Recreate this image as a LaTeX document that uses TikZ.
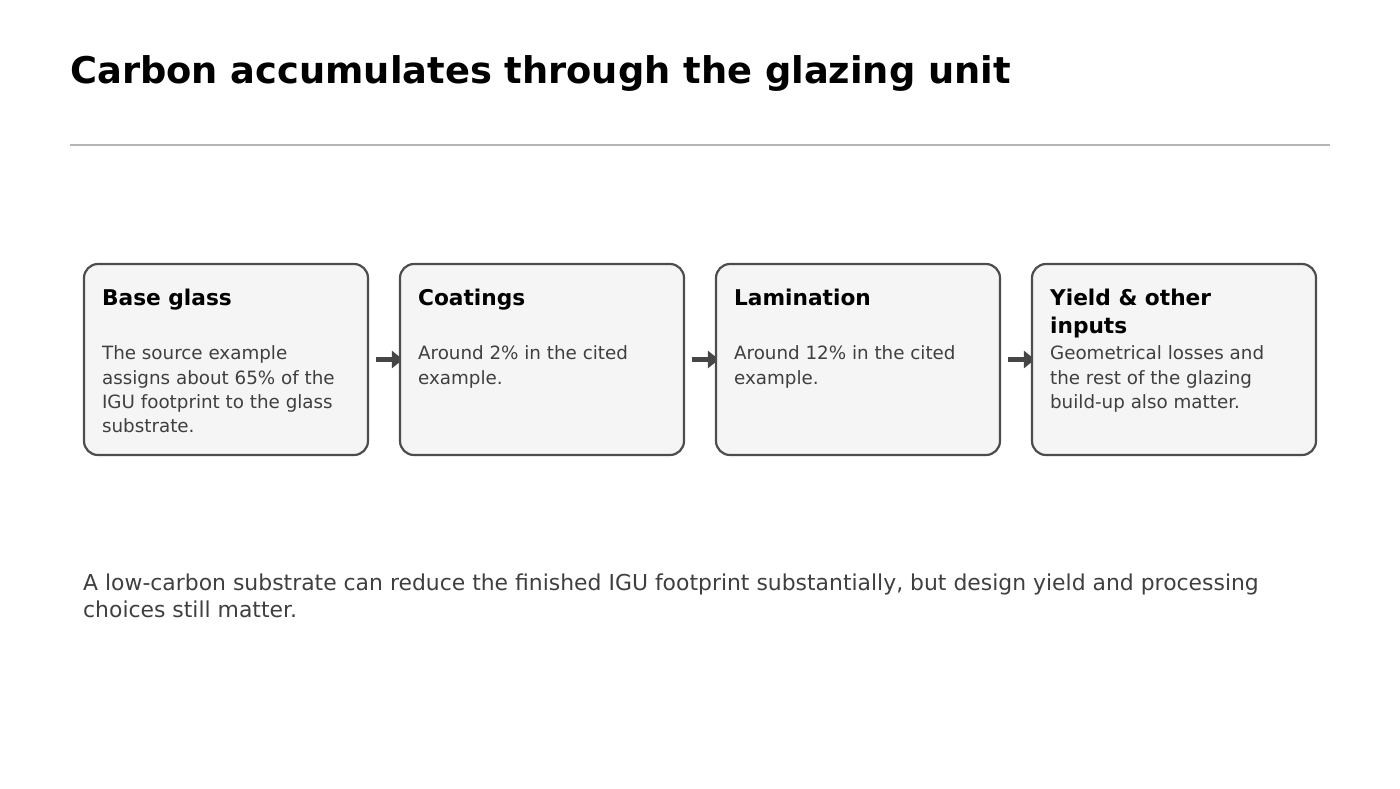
\documentclass[tikz,border=0pt]{standalone}
\usepackage{fontspec}
\setmainfont{DejaVu Sans}
\usetikzlibrary{arrows.meta,backgrounds}
\definecolor{boxline}{HTML}{4D4D4D}
\definecolor{boxfill}{HTML}{F5F5F5}
\definecolor{bodytext}{HTML}{3F3F3F}
\definecolor{rulecol}{HTML}{B4B4B4}
\definecolor{arrcol}{HTML}{464646}
\newcommand{\toplines}[1]{\begin{tabular}[t]{@{}l@{}}#1\end{tabular}}
\tikzset{
  stagebox/.style={draw=boxline, fill=boxfill, line width=2.2pt, rounded corners=14pt,
    minimum width=284pt, minimum height=191pt, inner sep=0pt},
  headtext/.style={anchor=base west, inner sep=0pt,
    font=\bfseries\fontsize{21.7}{28}\selectfont, text=black},
  bodytxt/.style={anchor=base west, inner sep=0pt,
    font=\fontsize{18.3}{24.3}\selectfont, text=bodytext},
  flowarrow/.style={draw=arrcol, line width=4.5pt, -{Triangle[length=11pt,width=17pt]}},
}
\begin{document}
\begin{tikzpicture}[x=1pt,y=-1pt]
\useasboundingbox (0,0) rectangle (1400,788);
\node[anchor=base west, inner sep=0pt, font=\bfseries\fontsize{36.8}{44}\selectfont] (title) at (70,83.2) {Carbon accumulates through the glazing unit};
\coordinate (rl) at (70,145);
\coordinate (rr) at (1330,145);
\draw[rulecol, line width=1.5pt] (rl) -- (rr);

\node[stagebox] (b1) at (226,359.5) {};
\node[stagebox] (b2) at (542,359.5) {};
\node[stagebox] (b3) at (858,359.5) {};
\node[stagebox] (b4) at (1174,359.5) {};

\begin{scope}[on background layer]
\draw[flowarrow] ([xshift=7pt]b1.east) -- ([xshift=4pt]b2.west);
\draw[flowarrow] ([xshift=7pt]b2.east) -- ([xshift=4pt]b3.west);
\draw[flowarrow] ([xshift=7pt]b3.east) -- ([xshift=4pt]b4.west);
\end{scope}

\node[headtext] (h1) at ([xshift=19pt,yshift=-42.5pt]b1.north west) {\toplines{Base glass}};
\node[headtext] (h2) at ([xshift=19pt,yshift=-42.5pt]b2.north west) {\toplines{Coatings}};
\node[headtext] (h3) at ([xshift=19pt,yshift=-42.5pt]b3.north west) {\toplines{Lamination}};
\node[headtext] (h4) at ([xshift=19pt,yshift=-42.5pt]b4.north west) {\toplines{Yield \& other\\inputs}};

\node[bodytxt] (t1) at ([xshift=19pt,yshift=-96.8pt]b1.north west) {\toplines{The source example\\assigns about 65\% of the\\IGU footprint to the glass\\substrate.}};
\node[bodytxt] (t2) at ([xshift=19pt,yshift=-96.8pt]b2.north west) {\toplines{Around 2\% in the cited\\example.}};
\node[bodytxt] (t3) at ([xshift=19pt,yshift=-96.8pt]b3.north west) {\toplines{Around 12\% in the cited\\example.}};
\node[bodytxt] (t4) at ([xshift=19pt,yshift=-96.8pt]b4.north west) {\toplines{Geometrical losses and\\the rest of the glazing\\build-up also matter.}};

\node[anchor=base west, inner sep=0pt, text=bodytext, font=\fontsize{21.9}{27.8}\selectfont] (foot) at (83,590) {\toplines{A low-carbon substrate can reduce the finished IGU footprint substantially, but design yield and processing\\choices still matter.}};
\end{tikzpicture}
\end{document}
